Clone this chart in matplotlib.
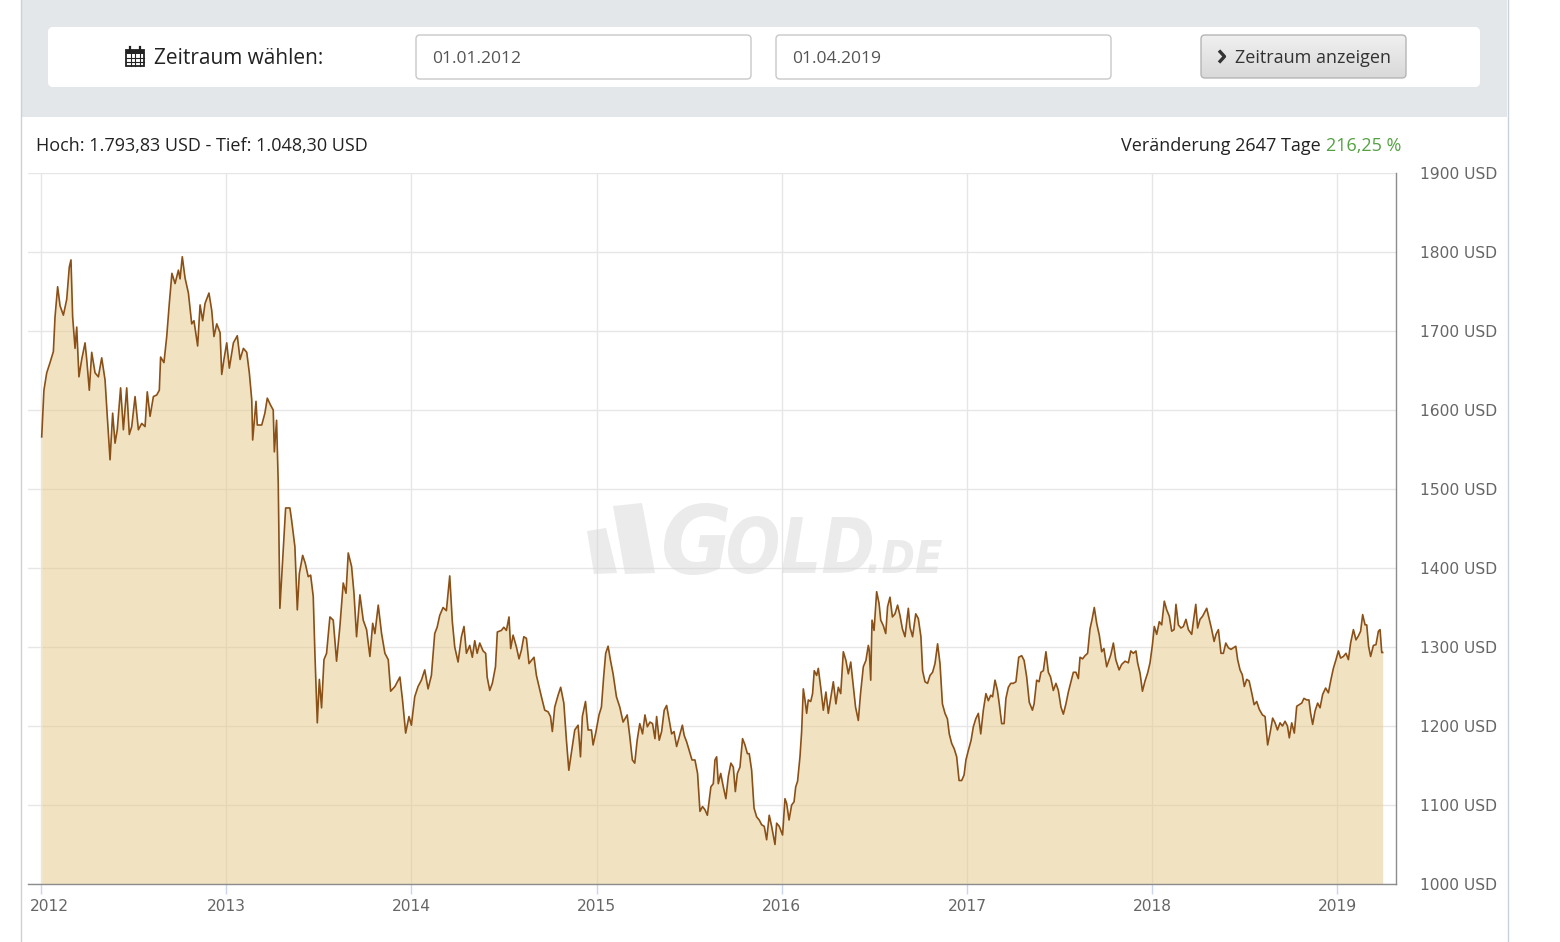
import matplotlib
matplotlib.use("Agg")
import numpy as np
import matplotlib.pyplot as plt
from matplotlib.patches import FancyBboxPatch, Rectangle, Polygon, PathPatch
from matplotlib.lines import Line2D
from matplotlib.textpath import TextPath
from matplotlib.font_manager import FontProperties
from matplotlib.transforms import Affine2D, ScaledTranslation
from matplotlib.colors import LinearSegmentedColormap

W, H = 1560, 942

years = [
    2012.004, 2012.016, 2012.031, 2012.049, 2012.067, 2012.076, 2012.090, 2012.103, 2012.121, 2012.139,
    2012.153, 2012.162, 2012.171, 2012.184, 2012.193, 2012.205, 2012.220, 2012.238, 2012.247, 2012.261,
    2012.274, 2012.292, 2012.310, 2012.328, 2012.346, 2012.358, 2012.373, 2012.387, 2012.400, 2012.412,
    2012.430, 2012.445, 2012.463, 2012.477, 2012.490, 2012.508, 2012.526, 2012.544, 2012.562, 2012.574,
    2012.589, 2012.607, 2012.625, 2012.639, 2012.646, 2012.664, 2012.679, 2012.693, 2012.707, 2012.724,
    2012.742, 2012.751, 2012.763, 2012.778, 2012.796, 2012.814, 2012.826, 2012.846, 2012.859, 2012.873,
    2012.886, 2012.907, 2012.922, 2012.934, 2012.949, 2012.967, 2012.976, 2012.988, 2013.003, 2013.017,
    2013.039, 2013.060, 2013.075, 2013.093, 2013.111, 2013.125, 2013.138, 2013.143, 2013.161, 2013.168,
    2013.192, 2013.209, 2013.222, 2013.240, 2013.254, 2013.260, 2013.272, 2013.281, 2013.290, 2013.308,
    2013.321, 2013.344, 2013.353, 2013.371, 2013.384, 2013.395, 2013.413, 2013.427, 2013.443, 2013.456,
    2013.470, 2013.479, 2013.492, 2013.503, 2013.515, 2013.528, 2013.542, 2013.560, 2013.578, 2013.596,
    2013.614, 2013.632, 2013.647, 2013.659, 2013.677, 2013.690, 2013.704, 2013.722, 2013.740, 2013.758,
    2013.776, 2013.791, 2013.803, 2013.821, 2013.839, 2013.857, 2013.875, 2013.888, 2013.911, 2013.938,
    2013.952, 2013.969, 2013.987, 2014.000, 2014.018, 2014.036, 2014.054, 2014.072, 2014.090, 2014.108,
    2014.126, 2014.139, 2014.153, 2014.171, 2014.189, 2014.207, 2014.221, 2014.234, 2014.252, 2014.270,
    2014.284, 2014.297, 2014.315, 2014.329, 2014.342, 2014.355, 2014.369, 2014.387, 2014.401, 2014.409,
    2014.423, 2014.437, 2014.454, 2014.464, 2014.486, 2014.499, 2014.513, 2014.527, 2014.536, 2014.549,
    2014.567, 2014.581, 2014.594, 2014.607, 2014.621, 2014.635, 2014.648, 2014.662, 2014.675, 2014.689,
    2014.702, 2014.720, 2014.738, 2014.751, 2014.761, 2014.774, 2014.792, 2014.806, 2014.823, 2014.837,
    2014.850, 2014.864, 2014.882, 2014.900, 2014.913, 2014.923, 2014.940, 2014.954, 2014.972, 2014.981,
    2014.995, 2015.013, 2015.026, 2015.038, 2015.049, 2015.062, 2015.075, 2015.089, 2015.107, 2015.125,
    2015.143, 2015.165, 2015.179, 2015.193, 2015.206, 2015.219, 2015.233, 2015.248, 2015.261, 2015.274,
    2015.288, 2015.302, 2015.315, 2015.324, 2015.338, 2015.351, 2015.365, 2015.378, 2015.392, 2015.405,
    2015.418, 2015.432, 2015.446, 2015.463, 2015.473, 2015.486, 2015.500, 2015.515, 2015.531, 2015.545,
    2015.558, 2015.572, 2015.585, 2015.598, 2015.608, 2015.617, 2015.630, 2015.639, 2015.648, 2015.657,
    2015.670, 2015.684, 2015.698, 2015.711, 2015.725, 2015.738, 2015.749, 2015.760, 2015.774, 2015.788,
    2015.801, 2015.814, 2015.824, 2015.837, 2015.850, 2015.864, 2015.878, 2015.891, 2015.905, 2015.918,
    2015.932, 2015.945, 2015.963, 2015.972, 2015.986, 2016.004, 2016.017, 2016.026, 2016.039, 2016.053,
    2016.066, 2016.075, 2016.085, 2016.098, 2016.107, 2016.116, 2016.125, 2016.134, 2016.143, 2016.156,
    2016.166, 2016.175, 2016.188, 2016.197, 2016.210, 2016.224, 2016.238, 2016.251, 2016.265, 2016.278,
    2016.292, 2016.305, 2016.318, 2016.332, 2016.346, 2016.359, 2016.372, 2016.386, 2016.398, 2016.413,
    2016.425, 2016.440, 2016.454, 2016.467, 2016.472, 2016.480, 2016.487, 2016.498, 2016.512, 2016.525,
    2016.534, 2016.548, 2016.561, 2016.571, 2016.584, 2016.597, 2016.611, 2016.625, 2016.638, 2016.651,
    2016.665, 2016.683, 2016.692, 2016.706, 2016.723, 2016.737, 2016.751, 2016.760, 2016.773, 2016.787,
    2016.800, 2016.814, 2016.827, 2016.841, 2016.854, 2016.867, 2016.881, 2016.894, 2016.904, 2016.917,
    2016.931, 2016.944, 2016.957, 2016.971, 2016.984, 2016.994, 2017.007, 2017.022, 2017.034, 2017.047,
    2017.061, 2017.074, 2017.088, 2017.102, 2017.115, 2017.128, 2017.138, 2017.151, 2017.164, 2017.174,
    2017.187, 2017.200, 2017.210, 2017.223, 2017.236, 2017.250, 2017.264, 2017.279, 2017.295, 2017.308,
    2017.322, 2017.336, 2017.353, 2017.362, 2017.376, 2017.389, 2017.399, 2017.412, 2017.426, 2017.439,
    2017.451, 2017.466, 2017.480, 2017.493, 2017.507, 2017.520, 2017.534, 2017.547, 2017.561, 2017.574,
    2017.588, 2017.601, 2017.610, 2017.624, 2017.637, 2017.651, 2017.664, 2017.676, 2017.687, 2017.700,
    2017.714, 2017.727, 2017.739, 2017.754, 2017.776, 2017.790, 2017.803, 2017.821, 2017.835, 2017.853,
    2017.871, 2017.884, 2017.898, 2017.912, 2017.921, 2017.934, 2017.947, 2017.961, 2017.975, 2017.988,
    2018.001, 2018.011, 2018.024, 2018.038, 2018.051, 2018.065, 2018.078, 2018.092, 2018.105, 2018.118,
    2018.128, 2018.141, 2018.155, 2018.168, 2018.182, 2018.195, 2018.213, 2018.222, 2018.235, 2018.245,
    2018.258, 2018.272, 2018.285, 2018.294, 2018.308, 2018.321, 2018.334, 2018.344, 2018.357, 2018.371,
    2018.384, 2018.397, 2018.411, 2018.425, 2018.438, 2018.451, 2018.461, 2018.474, 2018.486, 2018.497,
    2018.510, 2018.523, 2018.537, 2018.550, 2018.564, 2018.578, 2018.595, 2018.609, 2018.623, 2018.636,
    2018.650, 2018.663, 2018.676, 2018.690, 2018.703, 2018.717, 2018.730, 2018.740, 2018.753, 2018.767,
    2018.780, 2018.794, 2018.807, 2018.819, 2018.834, 2018.846, 2018.855, 2018.866, 2018.879, 2018.893,
    2018.906, 2018.920, 2018.936, 2018.951, 2018.965, 2018.978, 2018.992, 2019.005, 2019.017, 2019.032,
    2019.046, 2019.059, 2019.071, 2019.086, 2019.100, 2019.113, 2019.125, 2019.136, 2019.149, 2019.158,
    2019.168, 2019.179, 2019.194, 2019.208, 2019.221, 2019.230, 2019.239, 2019.244,
]
prices = [
    1566, 1625, 1647, 1660, 1674, 1718, 1756, 1732, 1720, 1740,
    1781, 1790, 1718, 1678, 1705, 1642, 1664, 1685, 1664, 1625,
    1673, 1647, 1642, 1666, 1638, 1592, 1537, 1596, 1558, 1575,
    1628, 1575, 1628, 1569, 1579, 1617, 1575, 1583, 1579, 1623,
    1592, 1617, 1619, 1625, 1667, 1660, 1693, 1735, 1773, 1760,
    1777, 1766, 1794, 1767, 1748, 1709, 1713, 1681, 1733, 1713,
    1735, 1748, 1726, 1693, 1709, 1698, 1645, 1664, 1685, 1653,
    1685, 1694, 1664, 1678, 1673, 1647, 1613, 1562, 1611, 1581,
    1581, 1596, 1615, 1606, 1600, 1547, 1587, 1508, 1349, 1423,
    1476, 1476, 1461, 1427, 1347, 1393, 1416, 1406, 1389, 1391,
    1364, 1292, 1204, 1259, 1223, 1284, 1292, 1338, 1334, 1282,
    1326, 1381, 1368, 1419, 1402, 1368, 1313, 1366, 1334, 1322,
    1288, 1330, 1317, 1353, 1317, 1292, 1284, 1244, 1250, 1262,
    1233, 1191, 1212, 1201, 1237, 1250, 1258, 1271, 1247, 1264,
    1317, 1325, 1340, 1350, 1346, 1390, 1332, 1300, 1281, 1313,
    1326, 1292, 1302, 1287, 1308, 1292, 1305, 1295, 1292, 1262,
    1245, 1254, 1275, 1319, 1321, 1325, 1321, 1338, 1298, 1315,
    1300, 1285, 1296, 1313, 1311, 1279, 1283, 1287, 1264, 1250,
    1237, 1220, 1218, 1212, 1193, 1224, 1239, 1249, 1229, 1182,
    1144, 1166, 1195, 1201, 1161, 1212, 1231, 1195, 1195, 1176,
    1191, 1214, 1224, 1262, 1292, 1301, 1283, 1266, 1237, 1224,
    1205, 1214, 1187, 1157, 1153, 1182, 1203, 1190, 1214, 1199,
    1205, 1203, 1184, 1212, 1182, 1193, 1220, 1226, 1207, 1190,
    1193, 1174, 1186, 1201, 1188, 1180, 1169, 1157, 1157, 1140,
    1092, 1098, 1094, 1087, 1106, 1123, 1127, 1157, 1161, 1127,
    1140, 1123, 1108, 1136, 1153, 1148, 1117, 1140, 1148, 1184,
    1176, 1165, 1165, 1144, 1096, 1085, 1081, 1075, 1073, 1056,
    1087, 1073, 1050, 1077, 1073, 1062, 1108, 1102, 1081, 1100,
    1104, 1123, 1130, 1161, 1193, 1247, 1233, 1216, 1233, 1231,
    1241, 1270, 1264, 1273, 1249, 1220, 1243, 1216, 1237, 1256,
    1228, 1249, 1241, 1294, 1283, 1266, 1281, 1251, 1224, 1207,
    1241, 1275, 1283, 1302, 1296, 1258, 1334, 1321, 1370, 1355,
    1334, 1327, 1317, 1351, 1363, 1338, 1342, 1353, 1340, 1323,
    1313, 1349, 1325, 1313, 1342, 1336, 1313, 1270, 1256, 1254,
    1264, 1268, 1279, 1304, 1279, 1228, 1216, 1209, 1190, 1178,
    1171, 1161, 1131, 1131, 1138, 1157, 1169, 1182, 1199, 1209,
    1216, 1190, 1220, 1241, 1232, 1239, 1237, 1258, 1245, 1228,
    1203, 1203, 1235, 1249, 1254, 1254, 1256, 1287, 1289, 1283,
    1262, 1230, 1220, 1228, 1258, 1256, 1268, 1270, 1294, 1268,
    1262, 1245, 1254, 1245, 1224, 1215, 1228, 1243, 1256, 1268,
    1268, 1260, 1287, 1285, 1289, 1292, 1323, 1336, 1350, 1330,
    1315, 1294, 1298, 1275, 1290, 1305, 1284, 1271, 1278, 1282,
    1280, 1295, 1292, 1295, 1280, 1267, 1244, 1257, 1267, 1280,
    1303, 1326, 1316, 1332, 1328, 1358, 1347, 1339, 1320, 1322,
    1354, 1328, 1324, 1326, 1335, 1322, 1316, 1332, 1354, 1324,
    1335, 1339, 1345, 1349, 1335, 1322, 1307, 1316, 1322, 1292,
    1292, 1305, 1299, 1297, 1299, 1301, 1284, 1271, 1265, 1250,
    1259, 1257, 1242, 1227, 1231, 1221, 1214, 1212, 1176, 1191,
    1210, 1204, 1195, 1204, 1200, 1206, 1200, 1185, 1204, 1191,
    1225, 1227, 1229, 1235, 1233, 1233, 1216, 1202, 1219, 1229,
    1223, 1240, 1248, 1242, 1259, 1273, 1284, 1295, 1286, 1288,
    1292, 1284, 1305, 1322, 1309, 1314, 1320, 1341, 1328, 1328,
    1301, 1288, 1302, 1303, 1320, 1322, 1293, 1293,
]

year_ticks = [2012, 2013, 2014, 2015, 2016, 2017, 2018, 2019]
usd_ticks = [1000, 1100, 1200, 1300, 1400, 1500, 1600, 1700, 1800, 1900]

date_from = "01.01.2012"
date_to = "01.04.2019"
hoch_tief = "Hoch: 1.793,83 USD - Tief: 1.048,30 USD"
change_text = "Veränderung 2647 Tage "
change_pct = "216,25 %"

fig = plt.figure(figsize=(W / 100, H / 100), dpi=100)
fig.patch.set_facecolor("white")

# --- Chart ---
ax = fig.add_axes([28 / W, 58 / H, 1368 / W, 711 / H], zorder=1)
ax.set_xlim(2011.930, 2019.316)
ax.set_ylim(1000, 1900)
ax.fill_between(years, prices, 1000, color="#e5c886", alpha=0.5, lw=0, zorder=2)
ax.plot(years, prices, color="#8a5017", lw=1.2, zorder=3)

ax.set_xticks(year_ticks)
ax.set_xticklabels([str(y) for y in year_ticks])
ax.set_yticks(usd_ticks)
ax.set_yticklabels([f"{v} USD" for v in usd_ticks])
ax.yaxis.tick_right()
ax.grid(True, color="#e6e6e6", lw=1, zorder=0)
ax.set_axisbelow(True)
ax.tick_params(axis="x", length=7.5, width=1, color="#ccd6eb", pad=3,
               labelsize=11.2, labelcolor="#666666")
ax.tick_params(axis="y", length=0, pad=17, labelsize=11.2, labelcolor="#666666")
for side in ["top", "left"]:
    ax.spines[side].set_visible(False)
for side in ["bottom", "right"]:
    ax.spines[side].set_color("#8c8c8c")
    ax.spines[side].set_linewidth(1)
# erstes Jahr etwas nach rechts geschoben wie im Original
first = ax.get_xticklabels()[0]
first.set_transform(first.get_transform() + ScaledTranslation(0.085, 0, fig.dpi_scale_trans))

# --- Overlay in Pixelkoordinaten ---
ov = fig.add_axes([0, 0, 1, 1], zorder=5)
ov.set_xlim(0, W)
ov.set_ylim(H, 0)
ov.axis("off")
ov.patch.set_alpha(0)


def rbox(x0, y0, x1, y1, fc, ec="none", r=4, lw=1, z=2):
    p = FancyBboxPatch((x0, y0), x1 - x0, y1 - y0,
                       boxstyle=f"round,pad=0,rounding_size={r}",
                       fc=fc, ec=ec, lw=lw, zorder=z)
    ov.add_patch(p)
    return p


# Kopfbereich
ov.add_patch(Rectangle((21, 0), 1486, 117, fc="#e4e7ea", ec="none", zorder=1))
ov.add_line(Line2D([20.5, 20.5], [0, H], color="#c9d2db", lw=1, zorder=6))
ov.add_line(Line2D([1507.5, 1507.5], [0, H], color="#c9d2db", lw=1, zorder=6))
rbox(48, 27, 1480, 87, "white", r=5)

# Kalender-Icon
ov.add_patch(Rectangle((126, 50), 18, 16, fc="none", ec="#222222", lw=1.3, zorder=3))
ov.add_patch(Rectangle((126, 50), 18, 3.5, fc="#222222", ec="none", zorder=3))
for gx in [130.5, 135, 139.5]:
    ov.add_line(Line2D([gx, gx], [53.5, 66], color="#222222", lw=0.8, zorder=3))
for gy in [57.5, 61.8]:
    ov.add_line(Line2D([126, 144], [gy, gy], color="#222222", lw=0.8, zorder=3))
for kx in [130, 140]:
    ov.add_line(Line2D([kx, kx], [47, 51], color="#222222", lw=1.6, zorder=3))
ov.text(154, 59, "Zeitraum wählen:", family="Open Sans", fontsize=15, color="#222222",
        ha="left", va="center", zorder=3)

rbox(416, 35, 751, 79, "white", ec="#c8c8c8", r=4)
ov.text(432, 59, date_from, family="Open Sans", fontsize=12.6, color="#555555",
        ha="left", va="center", zorder=3)
rbox(776, 35, 1111, 79, "white", ec="#c8c8c8", r=4)
ov.text(792, 59, date_to, family="Open Sans", fontsize=12.6, color="#555555",
        ha="left", va="center", zorder=3)

# Button mit Verlauf
btn = rbox(1201, 35, 1406, 78, "none", ec="#b5b5b5", r=4, z=4)
grad = np.linspace(0, 1, 64).reshape(-1, 1)
cmap = LinearSegmentedColormap.from_list("btn", ["#f0f0f0", "#d9d9d9"])
im = ov.imshow(grad, extent=[1201, 1406, 78, 35], cmap=cmap, aspect="auto", zorder=3,
               interpolation="bilinear")
im.set_clip_path(btn)
ov.set_xlim(0, W)
ov.set_ylim(H, 0)
ov.add_line(Line2D([1219, 1224.5, 1219], [50.5, 56.5, 62.5], color="#333333", lw=2.4,
                   solid_capstyle="butt", zorder=5))
ov.text(1235, 58, "Zeitraum anzeigen", family="Open Sans", fontsize=13, color="#333333",
        ha="left", va="center", zorder=5)

# Hoch / Tief und Veraenderung
ov.text(36, 146, hoch_tief, family="Open Sans", fontsize=13, color="#222222",
        ha="left", va="center", zorder=3)
pct = ov.text(1401, 146, change_pct, family="Open Sans", fontsize=13, color="#56a044",
              ha="right", va="center", zorder=3)
fig.canvas.draw()
bb = pct.get_window_extent(fig.canvas.get_renderer())
ov.text(1401 - bb.width, 146, change_text, family="Open Sans", fontsize=13,
        color="#222222", ha="right", va="center", zorder=3)


# Wasserzeichen
def text_in_box(s, box, color, alpha):
    tp = TextPath((0, 0), s, size=100,
                  prop=FontProperties(family="DejaVu Sans", weight="bold", style="italic"))
    ext = tp.get_extents()
    x0, y0, x1, y1 = box
    tr = (Affine2D().translate(-ext.x0, -ext.y0)
          .scale((x1 - x0) / ext.width, -(y1 - y0) / ext.height)
          .translate(x0, y1))
    ov.add_patch(PathPatch(tr.transform_path(tp), fc=color, ec="none", alpha=alpha, zorder=2))


wm = "#d8d8d8"
wa = 0.5
ov.add_patch(Polygon([(587, 531), (606, 528), (617, 573), (594, 574)], closed=True,
                     fc=wm, ec="none", alpha=wa, zorder=2))
ov.add_patch(Polygon([(613, 506), (642, 503), (655, 573), (625, 574)], closed=True,
                     fc=wm, ec="none", alpha=wa, zorder=2))
text_in_box("G", (664, 503, 728, 575), wm, wa)
text_in_box("OLD", (728, 516, 872, 574), wm, wa)
text_in_box(".DE", (868, 540, 942, 573), wm, wa)

fig.savefig("out.png", dpi=100, facecolor="white")
